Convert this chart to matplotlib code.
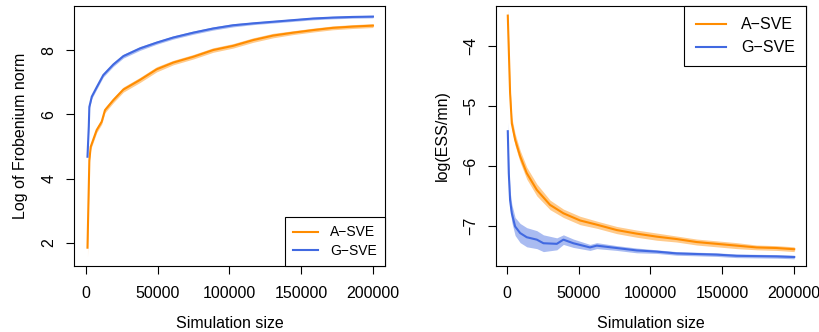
import numpy as np
import matplotlib
matplotlib.use("Agg")
from matplotlib import pyplot as plt

plt.rcParams["font.family"] = ["Liberation Sans", "DejaVu Sans"]

orange = "#FF8C00"
blue = "#4169E1"

# left panel: log of Frobenius norm
frob_x = [1000, 2300, 3250, 7400, 10900, 13200, 19000, 26000, 37600, 49200, 60800,
          74700, 88600, 102500, 116500, 130400, 144300, 158200, 172000, 186000, 200000]
frob_a = [1.85, 4.57, 4.99, 5.51, 5.77, 6.13, 6.44, 6.77, 7.07, 7.40, 7.61,
          7.79, 8.00, 8.13, 8.31, 8.45, 8.54, 8.62, 8.69, 8.73, 8.76]
frob_a_err = [0.30, 0.10, 0.08, 0.08, 0.08, 0.08, 0.08, 0.08, 0.08, 0.08, 0.07,
              0.07, 0.07, 0.07, 0.07, 0.07, 0.06, 0.06, 0.06, 0.06, 0.06]
frob_gx = [1000, 1900, 2300, 4000, 7400, 12000, 19000, 26000, 37600, 49200, 60800,
           74700, 88600, 102500, 116500, 130400, 144300, 158200, 172000, 186000, 200000]
frob_g = [4.68, 5.61, 6.23, 6.55, 6.84, 7.22, 7.55, 7.81, 8.05, 8.23, 8.39,
          8.54, 8.67, 8.77, 8.83, 8.88, 8.93, 8.98, 9.01, 9.03, 9.04]
frob_g_err = [0.08, 0.06, 0.06, 0.06, 0.06, 0.06, 0.06, 0.06, 0.06, 0.05, 0.05,
              0.05, 0.05, 0.05, 0.04, 0.04, 0.04, 0.04, 0.04, 0.04, 0.04]

# right panel: log(ESS/mn)
ess_x = [700, 1400, 2300, 3500, 5800, 9300, 13900, 20900, 30100, 39400, 51000,
         62600, 76500, 90400, 104300, 118200, 132100, 146000, 159900, 173800, 187700, 200000]
ess_a = [-3.49, -4.06, -4.78, -5.29, -5.56, -5.84, -6.12, -6.40, -6.65, -6.79, -6.91,
         -6.98, -7.07, -7.13, -7.18, -7.22, -7.27, -7.30, -7.33, -7.36, -7.37, -7.39]
ess_a_err = [0.14, 0.10, 0.10, 0.10, 0.10, 0.10, 0.10, 0.10, 0.08, 0.07, 0.07,
             0.06, 0.06, 0.06, 0.06, 0.05, 0.05, 0.05, 0.05, 0.04, 0.04, 0.04]
ess_gx = [700, 1400, 2300, 3500, 5800, 9300, 13900, 20900, 25500, 34800, 39400, 46300,
          57900, 62600, 76500, 90400, 104300, 118200, 132100, 146000, 159900, 187700, 200000]
ess_g = [-5.42, -6.12, -6.57, -6.79, -7.01, -7.12, -7.19, -7.23, -7.29, -7.30, -7.23, -7.29,
         -7.36, -7.33, -7.37, -7.41, -7.43, -7.46, -7.47, -7.48, -7.50, -7.51, -7.52]
ess_g_err = [0.15, 0.15, 0.15, 0.15, 0.15, 0.16, 0.16, 0.15, 0.14, 0.10, 0.08, 0.07,
             0.05, 0.05, 0.04, 0.04, 0.03, 0.03, 0.03, 0.03, 0.03, 0.03, 0.03]

fig = plt.figure(figsize=(8.2, 3.32), dpi=100)
ax1 = fig.add_axes([74 / 820, 1 - 266 / 332, 311 / 820, 260 / 332])
ax2 = fig.add_axes([496 / 820, 1 - 266 / 332, 310 / 820, 260 / 332])


def band(ax, x, y, e, color, label):
    x = np.array(x)
    y = np.array(y)
    e = np.array(e)
    ax.fill_between(x, y - e, y + e, color=color, alpha=0.45, lw=0)
    ax.plot(x, y, color=color, lw=1.5, label=label)


band(ax1, frob_x, frob_a, frob_a_err, orange, "A\u2212SVE")
band(ax1, frob_gx, frob_g, frob_g_err, blue, "G\u2212SVE")
band(ax2, ess_x, ess_a, ess_a_err, orange, "A\u2212SVE")
band(ax2, ess_gx, ess_g, ess_g_err, blue, "G\u2212SVE")

ax1.set_xlim(-8400, 208400)
ax1.set_ylim(1.28, 9.37)
ax1.set_yticks([2, 4, 6, 8])
ax2.set_xlim(-7500, 208200)
ax2.set_ylim(-7.67, -3.33)
ax2.set_yticks([-7, -6, -5, -4])

for ax in (ax1, ax2):
    ax.set_xticks([0, 50000, 100000, 150000, 200000])
    ax.tick_params(labelsize=11.5, length=6, width=0.8)
    ax.tick_params(axis="x", pad=8.5)
    ax.tick_params(axis="y", pad=6.5)
    for lab in ax.get_yticklabels():
        lab.set_rotation(90)
        lab.set_va("center")
    for s in ax.spines.values():
        s.set_linewidth(0.8)
    ax.set_xlabel("Simulation size", fontsize=11.5, labelpad=11)

ax1.set_ylabel("Log of Frobenium norm", fontsize=11.5, labelpad=10)
ax2.set_ylabel("log(ESS/mn)", fontsize=11.5, labelpad=10)

leg1 = ax1.legend(loc="lower right", fontsize=10, fancybox=False, framealpha=1,
                  edgecolor="black", borderaxespad=0, handlelength=1.8,
                  borderpad=0.6, labelspacing=0.3, handletextpad=0.86)
leg1.get_frame().set_linewidth(0.8)
leg2 = ax2.legend(loc="upper right", fontsize=11.5, fancybox=False, framealpha=1,
                  edgecolor="black", borderaxespad=0, handlelength=1.9,
                  borderpad=0.7, labelspacing=0.5, handletextpad=0.94)
leg2.get_frame().set_linewidth(0.8)

fig.savefig("out.png", dpi=100)
